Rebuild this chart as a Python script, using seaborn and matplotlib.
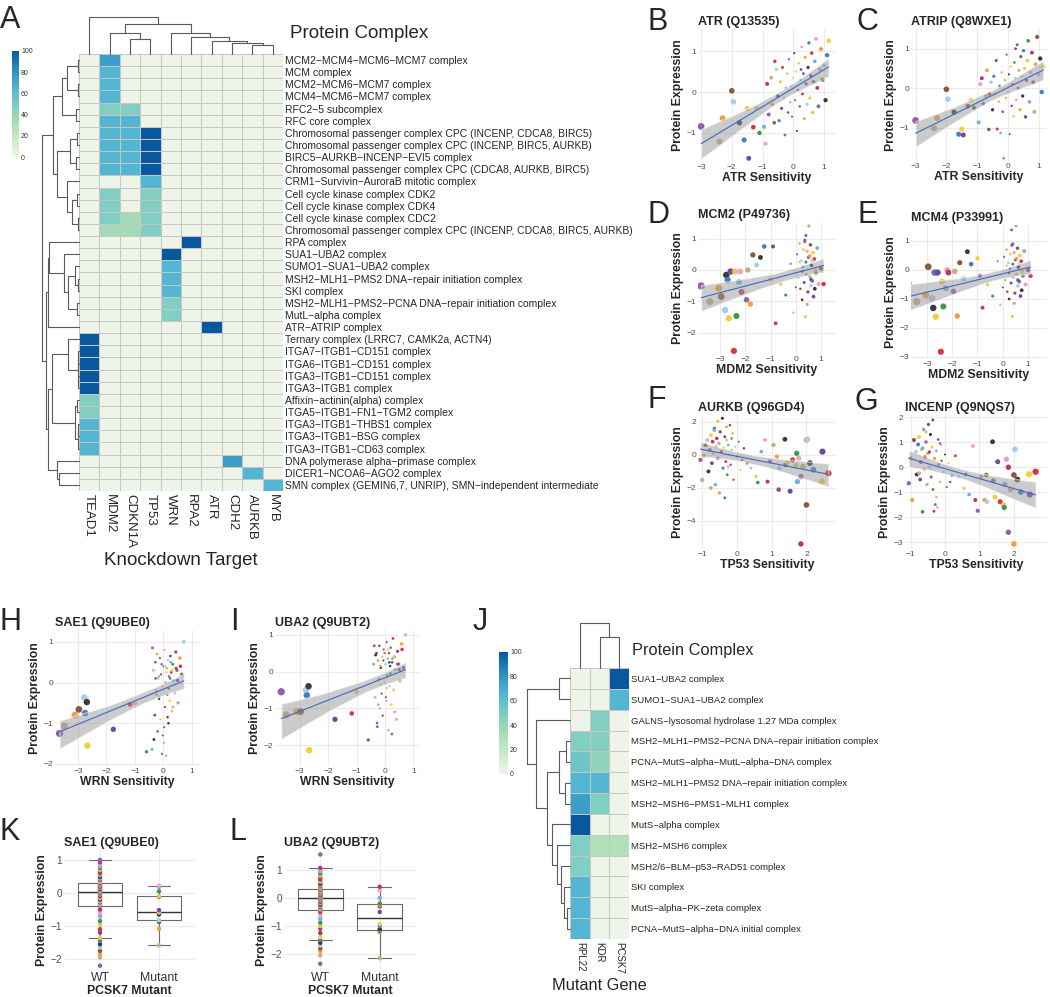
"""
Protein complex enrichment + dependency/expression panels (A-L)
"""
import numpy as np
import pandas as pd
import matplotlib
matplotlib.use("Agg")
import matplotlib.pyplot as plt
from matplotlib.colors import LinearSegmentedColormap
from matplotlib.ticker import MultipleLocator
import seaborn as sns

sns.set_theme(style="white")
plt.rcParams["font.family"] = ["Liberation Sans", "DejaVu Sans"]

# ── Panel A: knockdown target x protein complex ───────────────────────────────
knockdown_targets = ["TEAD1", "MDM2", "CDKN1A", "TP53", "WRN", "RPA2", "ATR", "CDH2", "AURKB", "MYB"]
knockdown_complexes = [
    "MCM2-MCM4-MCM6-MCM7 complex", "MCM complex", "MCM2-MCM6-MCM7 complex",
    "MCM4-MCM6-MCM7 complex", "RFC2-5 subcomplex", "RFC core complex",
    "Chromosomal passenger complex CPC (INCENP, CDCA8, BIRC5)",
    "Chromosomal passenger complex CPC (INCENP, BIRC5, AURKB)",
    "BIRC5-AURKB-INCENP-EVI5 complex",
    "Chromosomal passenger complex CPC (CDCA8, AURKB, BIRC5)",
    "CRM1-Survivin-AuroraB mitotic complex", "Cell cycle kinase complex CDK2",
    "Cell cycle kinase complex CDK4", "Cell cycle kinase complex CDC2",
    "Chromosomal passenger complex CPC (INCENP, CDCA8, BIRC5, AURKB)",
    "RPA complex", "SUA1-UBA2 complex", "SUMO1-SUA1-UBA2 complex",
    "MSH2-MLH1-PMS2 DNA-repair initiation complex", "SKI complex",
    "MSH2-MLH1-PMS2-PCNA DNA-repair initiation complex", "MutL-alpha complex",
    "ATR-ATRIP complex", "Ternary complex (LRRC7, CAMK2a, ACTN4)",
    "ITGA7-ITGB1-CD151 complex", "ITGA6-ITGB1-CD151 complex",
    "ITGA3-ITGB1-CD151 complex", "ITGA3-ITGB1 complex",
    "Affixin-actinin(alpha) complex", "ITGA5-ITGB1-FN1-TGM2 complex",
    "ITGA3-ITGB1-THBS1 complex", "ITGA3-ITGB1-BSG complex",
    "ITGA3-ITGB1-CD63 complex", "DNA polymerase alpha-primase complex",
    "DICER1-NCOA6-AGO2 complex",
    "SMN complex (GEMIN6,7, UNRIP), SMN-independent intermediate",
]
knockdown_scores = [
    [0, 75, 0, 0, 0, 0, 0, 0, 0, 0],
    [0, 65, 0, 0, 0, 0, 0, 0, 0, 0],
    [0, 65, 0, 0, 0, 0, 0, 0, 0, 0],
    [0, 65, 0, 0, 0, 0, 0, 0, 0, 0],
    [0, 48, 48, 0, 0, 0, 0, 0, 0, 0],
    [0, 65, 65, 0, 0, 0, 0, 0, 0, 0],
    [0, 65, 65, 100, 0, 0, 0, 0, 0, 0],
    [0, 65, 65, 100, 0, 0, 0, 0, 0, 0],
    [0, 65, 65, 100, 0, 0, 0, 0, 0, 0],
    [0, 65, 65, 100, 0, 0, 0, 0, 0, 0],
    [0, 0, 0, 65, 0, 0, 0, 0, 0, 0],
    [0, 48, 0, 48, 0, 0, 0, 0, 0, 0],
    [0, 48, 0, 48, 0, 0, 0, 0, 0, 0],
    [0, 48, 35, 48, 0, 0, 0, 0, 0, 0],
    [0, 35, 35, 48, 0, 0, 0, 0, 0, 0],
    [0, 0, 0, 0, 0, 100, 0, 0, 0, 0],
    [0, 0, 0, 0, 100, 0, 0, 0, 0, 0],
    [0, 0, 0, 0, 65, 0, 0, 0, 0, 0],
    [0, 0, 0, 0, 65, 0, 0, 0, 0, 0],
    [0, 0, 0, 0, 65, 0, 0, 0, 0, 0],
    [0, 0, 0, 0, 48, 0, 0, 0, 0, 0],
    [0, 0, 0, 0, 48, 0, 0, 0, 0, 0],
    [0, 0, 0, 0, 0, 0, 100, 0, 0, 0],
    [100, 0, 0, 0, 0, 0, 0, 0, 0, 0],
    [100, 0, 0, 0, 0, 0, 0, 0, 0, 0],
    [100, 0, 0, 0, 0, 0, 0, 0, 0, 0],
    [100, 0, 0, 0, 0, 0, 0, 0, 0, 0],
    [100, 0, 0, 0, 0, 0, 0, 0, 0, 0],
    [48, 0, 0, 0, 0, 0, 0, 0, 0, 0],
    [48, 0, 0, 0, 0, 0, 0, 0, 0, 0],
    [65, 0, 0, 0, 0, 0, 0, 0, 0, 0],
    [65, 0, 0, 0, 0, 0, 0, 0, 0, 0],
    [65, 0, 0, 0, 0, 0, 0, 0, 0, 0],
    [0, 0, 0, 0, 0, 0, 0, 75, 0, 0],
    [0, 0, 0, 0, 0, 0, 0, 0, 65, 0],
    [0, 0, 0, 0, 0, 0, 0, 0, 0, 65],
]
# merges (left, right, height); new cluster ids continue after the leaves
knockdown_row_tree = [
    (0, 1, 0.035), (2, 3, 0.03), (36, 37, 0.33), (4, 5, 0.08), (38, 39, 0.45),
    (6, 7, 0.06), (8, 9, 0.08), (41, 42, 0.24), (11, 12, 0.05), (13, 14, 0.04),
    (44, 45, 0.19), (10, 46, 0.33), (43, 47, 0.59), (40, 48, 0.71),
    (18, 19, 0.03), (17, 50, 0.1), (20, 21, 0.05), (51, 52, 0.3), (16, 53, 0.4),
    (15, 54, 0.8), (55, 22, 0.85), (24, 25, 0.02), (26, 27, 0.02), (57, 58, 0.04),
    (23, 59, 0.29), (28, 29, 0.06), (30, 31, 0.02), (62, 32, 0.03), (61, 63, 0.1),
    (60, 64, 0.74), (34, 35, 0.53), (33, 66, 0.59), (65, 67, 0.83), (56, 68, 0.9),
    (49, 69, 1.0),
]
knockdown_col_tree = [
    (8, 9, 0.25), (7, 10, 0.29), (6, 11, 0.34), (5, 12, 0.45), (4, 13, 0.56),
    (2, 3, 0.4), (1, 15, 0.56), (16, 14, 0.82), (0, 17, 1.0),
]

# ── Panel J: mutant gene x protein complex ────────────────────────────────────
mutant_genes = ["RPL22", "KDR", "PCSK7"]
mutant_complexes = [
    "SUA1-UBA2 complex", "SUMO1-SUA1-UBA2 complex",
    "GALNS-lysosomal hydrolase 1.27 MDa complex",
    "MSH2-MLH1-PMS2-PCNA DNA-repair initiation complex",
    "PCNA-MutS-alpha-MutL-alpha-DNA complex",
    "MSH2-MLH1-PMS2 DNA-repair initiation complex",
    "MSH2-MSH6-PMS1-MLH1 complex", "MutS-alpha complex", "MSH2-MSH6 complex",
    "MSH2/6-BLM-p53-RAD51 complex", "SKI complex", "MutS-alpha-PK-zeta complex",
    "PCNA-MutS-alpha-DNA initial complex",
]
mutant_scores = [
    [0, 0, 100], [0, 0, 65], [0, 48, 0], [48, 48, 0], [55, 42, 0], [65, 65, 0],
    [75, 48, 0], [100, 0, 0], [48, 30, 30], [48, 0, 0], [65, 0, 0], [65, 0, 0],
    [65, 0, 0],
]
mutant_row_tree = [
    (0, 1, 0.26), (3, 4, 0.09), (5, 6, 0.12), (14, 15, 0.26), (11, 12, 0.07),
    (10, 17, 0.14), (9, 18, 0.21), (8, 19, 0.3), (7, 20, 0.42), (16, 21, 0.53),
    (2, 22, 0.79), (13, 23, 1.0),
]
mutant_col_tree = [(1, 2, 0.7), (0, 3, 1.0)]

# ── Scatter panels: sensitivity vs protein expression ─────────────────────────
atr_sens = [
    -3.00, -2.40, -2.30, -2.00, -1.95, -1.75, -1.60, -1.50, -1.45, -1.30,
    -1.20, -1.10, -0.95, -0.90, -0.85, -0.80, -0.72, -0.68, -0.62, -0.55,
    -0.50, -0.46, -0.42, -0.38, -0.35, -0.30, -0.27, -0.24, -0.20, -0.17,
    -0.14, -0.10, -0.07, -0.04, 0.00, 0.03, 0.06, 0.09, 0.12, 0.15,
    0.18, 0.21, 0.24, 0.27, 0.30, 0.33, 0.36, 0.39, 0.42, 0.45,
    0.48, 0.51, 0.54, 0.57, 0.60, 0.63, 0.66, 0.70, 0.74, 0.78,
    0.82, 0.86, 0.90, 0.95, 1.00, 1.05, 1.10, 1.15, 0.25, -0.60]
atr_prot = [
    -0.84, -1.21, -0.64, 0.03, -0.24, -0.75, -1.17, -0.40, -1.62, -0.86,
    -0.40, -1.00, -0.85, -1.26, 0.20, -0.55, 0.35, -0.30, -0.75, 0.55,
    -0.10, -0.70, 0.25, -0.40, 0.60, -0.15, -1.05, 0.10, 0.45, -0.50,
    0.80, -0.25, 0.15, -0.60, 0.35, 0.95, -0.20, 0.50, -0.95, 0.05,
    0.70, -0.35, 0.30, 1.10, -0.05, 0.45, -0.65, 0.85, 0.20, -0.30,
    0.60, 1.20, -0.15, 0.40, 0.95, -0.50, 0.25, 0.75, 1.30, 0.10,
    -0.35, 0.55, 1.05, 0.30, 0.65, -0.20, 0.90, 1.25, 0.55, 0.75]
atrip_prot = [
    -0.82, -1.02, -0.76, -0.03, -0.28, -0.61, -1.17, -1.04, -1.19, -0.46,
    -0.30, -0.50, -0.87, 0.10, 0.25, -0.40, -0.20, 0.45, -1.05, 0.15,
    -0.55, 0.30, -0.15, 0.70, -1.04, -0.35, 0.05, -1.14, 0.40, -0.60,
    -1.78, 0.20, -0.25, 0.85, -0.10, 0.35, -1.17, 0.55, -0.45, 0.10,
    -0.72, 0.65, 0.25, -0.30, 1.10, 0.00, 0.45, -0.55, 0.80, 0.30,
    -0.20, 0.95, 0.50, -0.73, 0.20, 0.70, 1.20, -0.35, 0.40, 0.90,
    0.15, -0.60, 0.60, 1.30, 0.35, 0.75, -0.10, 0.55, 1.00, -0.15]

mdm2_sens = [
    -3.75, -3.40, -3.05, -2.95, -2.80, -2.75, -2.70, -2.65, -2.58, -2.45,
    -2.40, -2.35, -2.25, -2.20, -2.15, -1.95, -1.90, -1.80, -1.70, -1.55,
    -1.40, -1.25, -1.00, -0.90, -0.80, -0.60, -0.40, -0.20, -0.10, 0.00,
    0.05, 0.10, 0.15, 0.18, 0.22, 0.25, 0.28, 0.30, 0.33, 0.36,
    0.38, 0.40, 0.42, 0.45, 0.48, 0.50, 0.52, 0.55, 0.58, 0.60,
    0.62, 0.65, 0.68, 0.70, 0.73, 0.76, 0.80, 0.85, 0.90, 1.00,
    0.35, 0.45, 0.55, 0.25, 0.65, 0.75, 0.40, 0.15, 0.60, 1.10]
mcm2_prot = [
    -0.51, -1.01, -0.58, -0.85, -1.28, -0.16, -0.32, -1.54, -0.05, -2.58,
    -0.05, -1.47, -0.38, -0.05, -0.70, -0.95, 0.00, -1.09, 0.48, 0.16,
    0.40, 0.75, -0.30, 0.75, -1.70, -0.45, -0.80, 0.20, -1.36, -0.55,
    0.50, -0.25, 0.85, -0.60, 0.30, -0.95, 0.10, 0.65, -0.40, 0.95,
    -1.49, 0.25, -0.15, 0.60, -0.70, 0.40, 1.40, -0.20, 0.80, -0.50,
    0.15, -0.35, 0.55, -0.85, 0.35, 0.00, -0.10, 0.70, -0.45, 0.05,
    0.90, -1.10, 0.45, -0.05, 0.30, -0.60, 1.10, 0.25, -0.30, -0.45]
mcm4_prot = [
    -0.46, -1.09, -0.86, 0.11, -0.98, -1.31, -0.09, -1.61, -0.09, -2.82,
    -0.40, -1.26, -0.63, 0.00, -0.09, -0.74, -0.05, -1.59, 0.25, -0.30,
    0.63, 0.20, 0.40, -0.20, -1.30, -0.50, -0.90, 0.30, -1.20, -0.60,
    0.45, -0.35, 0.70, -0.75, 0.25, -1.00, 0.05, 0.55, -0.45, 0.85,
    -1.60, 0.20, -0.25, 0.60, -0.80, 0.35, 1.52, -0.15, 0.75, -0.55,
    0.10, -0.40, 0.50, -0.90, 0.30, -0.05, -0.20, 0.65, -0.50, 0.00,
    1.38, -1.15, 0.40, -0.10, 0.20, -0.70, 0.90, 0.15, -0.35, -0.20]

tp53_sens = [
    -1.05, -1.00, -0.95, -0.90, -0.85, -0.82, -0.78, -0.75, -0.72, -0.70,
    -0.68, -0.65, -0.62, -0.60, -0.58, -0.55, -0.52, -0.50, -0.48, -0.45,
    -0.42, -0.40, -0.38, -0.35, -0.32, -0.30, -0.28, -0.25, -0.22, -0.20,
    -0.18, -0.15, -0.12, -0.10, -0.05, 0.00, 0.05, 0.10, 0.20, 0.30,
    0.55, 0.60, 0.70, 0.81, 0.88, 0.95, 1.05, 1.15, 1.20, 1.22,
    1.38, 1.40, 1.45, 1.53, 1.60, 1.70, 1.72, 1.74, 1.78, 1.84,
    1.84, 1.90, 2.00, 2.00, 2.03, 2.10, 2.20, 2.44, 2.46, 2.63,
    -0.55, -0.35, -0.65, -0.25, -0.45, -0.15, -0.75, -0.30, 0.15, 0.40]
aurkb_prot = [
    -0.30, -1.52, -0.06, 0.60, 0.90, -1.00, 0.30, 1.20, -0.50, 0.80,
    0.10, 1.60, -1.80, 0.50, 1.00, -0.20, 0.70, -2.30, 1.40, 0.20,
    2.22, -0.80, 0.40, 1.10, -0.40, 0.90, -1.20, 0.60, 0.00, 1.80,
    -0.60, 0.30, 1.30, -1.50, 0.50, -0.10, 0.80, -0.90, 0.40, -0.50,
    -1.30, -1.67, 0.20, 0.91, -1.62, -0.40, 0.60, -0.10, -2.10, -0.81,
    0.95, -0.60, -0.45, -2.20, -0.30, -0.63, 0.10, -1.62, -0.20, -5.39,
    -1.31, -0.70, 0.91, -3.03, 0.95, -0.50, -0.90, -1.62, 0.20, -1.11,
    2.05, -2.60, 1.50, -0.70, 0.20, 1.00, -2.00, 1.70, -0.30, -0.80]
incenp_prot = [
    -0.65, 0.35, -1.32, 1.08, 0.60, -0.30, 0.90, 1.20, -0.50, 0.20,
    0.70, -1.79, 1.50, -0.10, 0.40, 1.00, -0.70, 0.55, 1.70, 0.00,
    1.30, -0.40, 0.80, 1.88, -1.77, 0.30, -1.50, 0.65, -1.62, 1.10,
    0.10, -0.60, 0.90, 0.25, -0.20, 0.50, -0.80, 0.15, -0.35, 0.45,
    -0.85, -0.30, -1.10, 0.84, -1.32, -1.75, -0.40, -1.32, -0.32, -1.39,
    1.01, -0.55, -1.20, 0.21, -1.39, -1.52, -1.62, -0.70, 0.31, -0.01,
    -2.61, -0.90, -3.08, -0.32, 0.71, -0.50, -1.00, -0.29, -1.10, -0.19,
    1.40, -0.90, 0.75, -1.20, 0.60, 0.95, -0.25, 0.35, -0.60, -0.40]

wrn_sens = [
    -3.65, -3.48, -3.11, -2.97, -2.78, -2.69, -2.75, -2.67, -1.76, -1.17,
    -1.00, -0.59, -0.40, -0.35, -0.30, -0.28, -0.25, -0.22, -0.20, -0.18,
    -0.15, -0.12, -0.10, -0.08, -0.05, -0.03, 0.00, 0.02, 0.04, 0.06,
    0.08, 0.10, 0.12, 0.14, 0.16, 0.18, 0.20, 0.22, 0.25, 0.28,
    0.30, 0.33, 0.36, 0.40, 0.44, 0.48, 0.52, 0.58, 0.65, 0.72,
    -0.33, -0.27, -0.14, -0.06, 0.03, 0.11, 0.19, 0.26, 0.34, 0.45,
    -0.38, -0.24, -0.16, -0.02, 0.07, 0.15, 0.24, 0.31, 0.50, 0.60]
sae1_prot = [
    -1.25, -1.07, -0.80, -0.66, -0.37, -0.48, -0.75, -1.55, -1.15, -0.54,
    -0.50, -1.70, -1.64, 0.30, -0.80, 0.50, -0.20, 0.70, -1.20, 0.10,
    -0.40, 0.60, -0.90, 0.20, -1.75, -0.10, 0.40, -1.48, 0.80, -0.60,
    0.00, -1.80, 0.35, -0.30, 0.55, -1.00, 0.15, -0.45, 0.65, 0.25,
    -0.70, 0.45, 0.05, -0.25, 0.75, 0.30, -0.50, 0.60, 0.20, 1.00,
    -1.40, 0.10, -0.35, 0.45, -1.10, 0.25, -0.15, 0.50, -0.60, 0.35,
    0.85, -0.30, 0.15, -1.30, 0.40, -0.85, 0.10, 0.30, 0.05, 0.40]
uba2_prot = [
    -0.55, -1.18, -1.09, -1.09, -0.50, -0.40, -0.65, -2.14, -1.30, -1.14,
    -0.55, -1.86, 0.20, -0.70, 0.50, -1.40, 0.30, -0.20, 0.70, -1.00,
    0.10, -0.60, 0.40, -1.20, 0.60, -0.30, -2.59, 0.20, -0.80, 0.80,
    -0.10, 0.35, -1.60, 0.50, -0.40, 0.15, 0.65, -0.90, 0.25, 0.90,
    -0.50, 0.40, 0.05, -1.30, 0.55, 0.20, -0.25, 0.75, 0.10, 1.00,
    0.45, -1.50, -0.35, 0.30, -0.70, 0.60, -0.05, 0.35, -1.10, 0.20,
    0.70, -0.90, 0.15, 0.50, -0.45, 0.25, -1.70, 0.40, 0.05, 0.60]

# ── Panels K/L: PCSK7 mutation status ────────────────────────────────────────
sae1_wt = [
    -2.20, -1.95, -1.85, -1.75, -1.65, -1.55, -1.45, -1.35, -1.20, -1.10,
    -0.95, -0.85, -0.70, -0.60, -0.50, -0.39, -0.35, -0.32, -0.28, -0.25,
    -0.20, -0.17, -0.14, -0.10, -0.07, -0.04, -0.02, 0.00, 0.01, 0.02,
    0.03, 0.05, 0.07, 0.09, 0.11, 0.13, 0.15, 0.17, 0.19, 0.21,
    0.23, 0.24, 0.26, 0.27, 0.29, 0.30, 0.33, 0.36, 0.40, 0.44,
    0.48, 0.52, 0.56, 0.60, 0.65, 0.70, 0.75, 0.80, 0.86, 0.93, 1.00]
sae1_mut = [-1.58, -1.08, -0.88, -0.82, -0.65, -0.60, -0.58, -0.52, -0.12, -0.10, 0.05, 0.18, 0.22]
uba2_wt = [
    -2.35, -2.05, -1.90, -1.80, -1.70, -1.60, -1.50, -1.40, -1.25, -1.10,
    -1.00, -0.88, -0.75, -0.62, -0.50, -0.43, -0.40, -0.36, -0.32, -0.28,
    -0.24, -0.20, -0.17, -0.14, -0.11, -0.08, -0.06, -0.04, -0.02, -0.01,
    0.00, 0.02, 0.04, 0.06, 0.08, 0.10, 0.12, 0.14, 0.16, 0.18,
    0.20, 0.23, 0.25, 0.28, 0.30, 0.32, 0.35, 0.38, 0.42, 0.46,
    0.50, 0.55, 0.60, 0.66, 0.72, 0.80, 0.87, 0.95, 1.02, 1.07, 1.55]
uba2_mut = [-2.15, -1.22, -1.18, -1.15, -1.12, -1.00, -0.93, -0.50, -0.30, -0.23, -0.20, 0.00, 0.27, 0.40]

# ── Style ─────────────────────────────────────────────────────────────────────
HEAT_CMAP = LinearSegmentedColormap.from_list(
    "gnbu", ["#eef5e8", "#ccebc5", "#a8ddb5", "#7bccc4", "#4eb3d3", "#2b8cbe", "#08589e"])
TISSUE_COLORS = ["#4a7cc4", "#a8cbee", "#f4a03c", "#9560ab", "#f2a0bf", "#3c9b4a",
                 "#d9363e", "#f3cd3c", "#3a3a3a", "#8b5a3c", "#c4ae80", "#b23a6a",
                 "#76b0e3", "#e7c85a", "#6e4a9e"]
TISSUE_KEYS = [f"t{i}" for i in range(len(TISSUE_COLORS))]
TISSUE_PAL = dict(zip(TISSUE_KEYS, TISSUE_COLORS))
TREE_COLOR = "#5a5a5a"
GRID_COLOR = "#ebebeb"

W, H = 1050, 997
fig = plt.figure(figsize=(W / 100, H / 100), dpi=100)


def px_axes(x0, y0, x1, y1):
    return fig.add_axes([x0 / W, 1 - y1 / H, (x1 - x0) / W, (y1 - y0) / H])


def tissue_of(n):
    return [TISSUE_KEYS[(i * 7 + 3) % len(TISSUE_KEYS)] for i in range(n)]


def draw_tree(ax, merges, n, side):
    pos = {i: i + 0.5 for i in range(n)}
    hgt = {i: 0.0 for i in range(n)}
    for k, (a, b, h) in enumerate(merges):
        xs = [pos[a], pos[a], pos[b], pos[b]]
        ys = [hgt[a], h, h, hgt[b]]
        if side == "left":
            ax.plot(ys, xs, color=TREE_COLOR, lw=0.8, clip_on=False)
        else:
            ax.plot(xs, ys, color=TREE_COLOR, lw=0.8, clip_on=False)
        pos[n + k] = (pos[a] + pos[b]) / 2
        hgt[n + k] = h
    if side == "left":
        ax.set_xlim(1.0, 0)
        ax.set_ylim(n, 0)
    else:
        ax.set_xlim(0, n)
        ax.set_ylim(0, 1.0)
    ax.axis("off")


def complex_heatmap(rect, cbar_rect, scores, rows, cols, label_size, col_size):
    df = pd.DataFrame(scores, index=[r.replace("-", "\u2212") for r in rows], columns=cols)
    ax = px_axes(*rect)
    cax = px_axes(*cbar_rect)
    sns.heatmap(df, ax=ax, cbar_ax=cax, cmap=HEAT_CMAP, vmin=0, vmax=100,
                linewidths=0.5, linecolor="#c6c6c6", xticklabels=True, yticklabels=True,
                cbar_kws={"ticks": [0, 20, 40, 60, 80, 100]})
    ax.yaxis.tick_right()
    ax.set_yticklabels(df.index, rotation=0, fontsize=label_size)
    ax.set_xticklabels(cols, rotation=-90, fontsize=col_size, va="top", ha="center")
    ax.tick_params(axis="y", length=0, pad=1.5)
    ax.tick_params(axis="x", length=0, pad=2)
    ax.set_ylabel("")
    cax.tick_params(labelsize=5, length=0, pad=1.5, colors="#333333")
    cbar = ax.collections[0].colorbar
    if cbar is not None:
        cbar.outline.set_visible(False)
    return ax


def style_axes(ax, title, xlabel, tick_size):
    ax.set_axisbelow(True)
    ax.grid(True, color=GRID_COLOR, lw=0.8)
    for s in ax.spines.values():
        s.set_visible(False)
    ax.tick_params(length=0, labelsize=tick_size, labelcolor="#4d4d4d", pad=1.5)
    ax.set_title(title, loc="left", fontsize=9, fontweight="bold", color="#262626", pad=3)
    ax.set_xlabel(xlabel, fontsize=8.8, fontweight="bold", labelpad=1)
    ax.set_ylabel("Protein Expression", fontsize=8.8, fontweight="bold", labelpad=2)


def scatter_panel(rect, x, y, xlim, ylim, ystep, title, xlabel):
    ax = px_axes(*rect)
    df = pd.DataFrame({"sens": x, "expr": y})
    df["mag"] = df["sens"].abs()
    df["tissue"] = tissue_of(len(df))
    sns.scatterplot(data=df, x="sens", y="expr", hue="tissue", palette=TISSUE_PAL,
                    size="mag", sizes=(2, 28), size_norm=(0, 3.6), linewidth=0,
                    legend=False, ax=ax, zorder=3)
    # grey confidence band (line hidden), then the fitted line on top
    sns.regplot(data=df, x="sens", y="expr", scatter=False, ci=95, n_boot=500, seed=3,
                color="#999999", line_kws={"lw": 0}, ax=ax)
    band = ax.collections[-1]
    band.set_alpha(0.5)
    band.set_zorder(4)
    sns.regplot(data=df, x="sens", y="expr", scatter=False, ci=None,
                color="#3d69c9", line_kws={"lw": 0.8, "zorder": 5}, ax=ax)
    ax.set_xlim(*xlim)
    ax.set_ylim(*ylim)
    ax.xaxis.set_major_locator(MultipleLocator(1))
    ax.yaxis.set_major_locator(MultipleLocator(ystep))
    style_axes(ax, title, xlabel, 6)
    return ax


def box_panel(rect, wt, mut, ylim, title):
    ax = px_axes(*rect)
    df = pd.DataFrame({"status": ["WT"] * len(wt) + ["Mutant"] * len(mut),
                       "expr": wt + mut})
    df["tissue"] = tissue_of(len(df))
    sns.boxplot(data=df, x="status", y="expr", order=["WT", "Mutant"], fill=False,
                color="#6a6a6a", width=0.76, linewidth=0.8, showfliers=False,
                medianprops={"color": "#333333", "linewidth": 1.0}, ax=ax)
    sns.stripplot(data=df, x="status", y="expr", order=["WT", "Mutant"], hue="tissue",
                  palette=TISSUE_PAL, jitter=False, size=3.2, linewidth=0,
                  legend=False, ax=ax, zorder=3)
    ax.set_xlim(-0.61, 1.61)
    ax.set_ylim(*ylim)
    ax.yaxis.set_major_locator(MultipleLocator(1))
    style_axes(ax, title, "PCSK7 Mutant", 7.2)
    ax.tick_params(axis="x", labelsize=8.8, labelcolor="#333333")
    return ax


def panel_letter(x, baseline, s):
    fig.text(x / W, 1 - baseline / H, s, fontsize=22, va="baseline", ha="left")


# ── A ─────────────────────────────────────────────────────────────────────────
axA = complex_heatmap((79, 54, 283, 491), (12, 51, 19, 157), knockdown_scores,
                      knockdown_complexes, knockdown_targets, 7.5, 9.5)
axA.set_xlabel("Knockdown Target", fontsize=13.5, labelpad=3)
draw_tree(px_axes(42, 54, 79, 491), knockdown_row_tree, len(knockdown_complexes), "left")
draw_tree(px_axes(79, 17, 283, 54), knockdown_col_tree, len(knockdown_targets), "top")
fig.text(290 / W, 1 - 33 / H, "Protein Complex", fontsize=13.5, va="center")
panel_letter(0, 28, "A")

# ── B-G ───────────────────────────────────────────────────────────────────────
scatter_panel((698, 29, 836, 162), atr_sens, atr_prot, (-3.1, 1.39), (-1.71, 1.54), 1,
              "ATR (Q13535)", "ATR Sensitivity")
scatter_panel((911, 29, 1047, 161), atr_sens, atrip_prot, (-3.15, 1.27), (-1.85, 1.5), 1,
              "ATRIP (Q8WXE1)", "ATR Sensitivity")
scatter_panel((698, 222, 836, 354), mdm2_sens, mcm2_prot, (-3.87, 1.59), (-2.68, 1.53), 1,
              "MCM2 (P49736)", "MDM2 Sensitivity")
scatter_panel((911, 225, 1047, 359), mdm2_sens, mcm4_prot, (-3.63, 1.75), (-3.07, 1.55), 1,
              "MCM4 (P33991)", "MDM2 Sensitivity")
scatter_panel((698, 415, 836, 549), tp53_sens, aurkb_prot, (-1.12, 2.85), (-5.7, 2.42), 2,
              "AURKB (Q96GD4)", "TP53 Sensitivity")
scatter_panel((905, 415, 1047, 549), tp53_sens, incenp_prot, (-1.16, 2.96), (-3.28, 2.08), 1,
              "INCENP (Q9NQS7)", "TP53 Sensitivity")
for x, y, s in [(647, 30, "B"), (857, 30, "C"), (647, 223, "D"), (857, 223, "E"),
                (647, 408, "F"), (855, 410, "G")]:
    panel_letter(x, y, s)

# ── H, I ──────────────────────────────────────────────────────────────────────
scatter_panel((55, 630, 200, 766), wrn_sens, sae1_prot, (-3.81, 1.29), (-2.05, 1.29), 1,
              "SAE1 (Q9UBE0)", "WRN Sensitivity")
scatter_panel((275, 630, 420, 766), wrn_sens, uba2_prot, (-3.87, 1.23), (-2.57, 1.13), 1,
              "UBA2 (Q9UBT2)", "WRN Sensitivity")
panel_letter(0, 630, "H")
panel_letter(230, 630, "I")

# ── J ─────────────────────────────────────────────────────────────────────────
axJ = complex_heatmap((570, 668, 629, 939), (499, 652, 508, 774), mutant_scores,
                      mutant_complexes, mutant_genes, 6.8, 7)
axJ.set_xlabel("Mutant Gene", fontsize=11.8, labelpad=3)
draw_tree(px_axes(527, 668, 570, 939), mutant_row_tree, len(mutant_complexes), "left")
draw_tree(px_axes(570, 623, 629, 668), mutant_col_tree, len(mutant_genes), "top")
fig.text(632 / W, 1 - 650 / H, "Protein Complex", fontsize=11.8, va="center")
panel_letter(473, 630, "J")

# ── K, L ──────────────────────────────────────────────────────────────────────
box_panel((64, 850, 195, 970), sae1_wt, sae1_mut, (-2.33, 1.3), "SAE1 (Q9UBE0)")
box_panel((284, 850, 416, 970), uba2_wt, uba2_mut, (-2.57, 1.71), "UBA2 (Q9UBT2)")
panel_letter(0, 840, "K")
panel_letter(230, 840, "L")

fig.savefig("out.png", dpi=100)
